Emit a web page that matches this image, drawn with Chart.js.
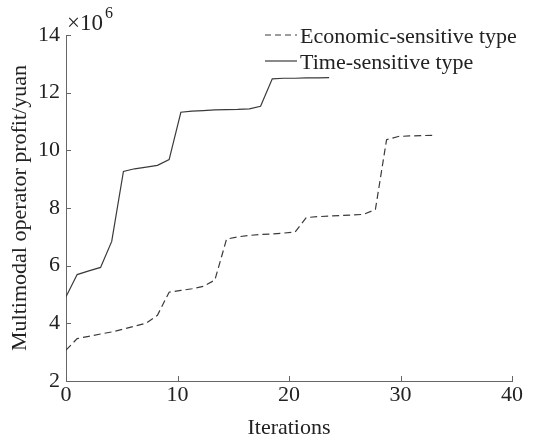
<!DOCTYPE html>
<html>
<head>
<meta charset="utf-8">
<script src="https://cdn.jsdelivr.net/npm/chart.js@4.4.0/dist/chart.umd.min.js"></script>
<style>
  html, body { margin: 0; padding: 0; background: #fff; }
  #wrap { width: 536px; height: 443px; }
</style>
</head>
<body>
<div id="wrap"><canvas id="myChart"></canvas></div>
<script>
// x positions (points sit slightly wider than the tick spacing)
const econIter = [0, 1.0, 2.05, 3.1, 4.1, 5.15, 6.15, 7.2, 8.2, 9.25,
                  10.3, 11.3, 12.3, 13.35, 14.4, 15.4, 16.45, 17.45, 18.5, 19.5,
                  20.55, 21.55, 22.6, 23.6, 24.65, 25.7, 26.7, 27.75, 28.75, 29.8,
                  30.8, 31.85, 32.85];
// profit in units of 10^6 yuan
const econProfit = [3.07, 3.47, 3.55, 3.63, 3.7, 3.8, 3.9, 4.01, 4.28, 5.08,
                    5.14, 5.2, 5.28, 5.5, 6.92, 7.0, 7.05, 7.08, 7.1, 7.13,
                    7.17, 7.67, 7.7, 7.72, 7.74, 7.76, 7.78, 7.95, 10.37, 10.48,
                    10.5, 10.51, 10.52];
const timeIter = [0, 1.0, 2.05, 3.1, 4.1, 5.15, 6.15, 7.2, 8.2, 9.25,
                  10.3, 11.3, 12.3, 13.35, 14.4, 15.4, 16.45, 17.45, 18.5, 19.5,
                  20.55, 21.55, 22.6, 23.6];
const timeProfit = [4.92, 5.69, 5.82, 5.94, 6.84, 9.27, 9.36, 9.42, 9.48, 9.68,
                    11.32, 11.36, 11.38, 11.4, 11.41, 11.42, 11.44, 11.53, 12.48, 12.5,
                    12.5, 12.51, 12.51, 12.52];
const xTicks = [0, 10, 20, 30, 40];
const yTicks = [2, 4, 6, 8, 10, 12, 14];
const seriesNames = ['Economic-sensitive type', 'Time-sensitive type'];

const FONT = '"Liberation Serif", "Times New Roman", serif';
const LINE = '#3a3a3a';
const AXIS = '#666';

const toPoints = (xs, ys) => ys.map((v, i) => ({ x: xs[i], y: v }));

const extras = {
    id: 'extras',
    afterDraw(chart) {
        const ctx = chart.ctx;
        const xs = chart.scales.x, ys = chart.scales.y;
        const area = chart.chartArea;
        ctx.save();
        // inward ticks
        ctx.strokeStyle = AXIS;
        ctx.lineWidth = 1;
        ctx.beginPath();
        xTicks.forEach(t => {
            const px = Math.round(xs.getPixelForValue(t)) + 0.5;
            ctx.moveTo(px, area.bottom);
            ctx.lineTo(px, area.bottom - 5);
        });
        yTicks.forEach(t => {
            const py = Math.round(ys.getPixelForValue(t)) + 0.5;
            ctx.moveTo(area.left, py);
            ctx.lineTo(area.left + 5, py);
        });
        ctx.stroke();

        // exponent label
        ctx.fillStyle = '#222';
        ctx.textBaseline = 'alphabetic';
        ctx.textAlign = 'left';
        ctx.font = '23px ' + FONT;
        ctx.fillText('\u00d710', area.left + 1, area.top - 5);
        const w = ctx.measureText('\u00d710').width;
        ctx.font = '16px ' + FONT;
        ctx.fillText('6', area.left + w + 3, area.top - 17);

        // legend
        const lx = area.right - 247;
        const rows = [area.top + 0, area.top + 26];
        ctx.font = '22px ' + FONT;
        ctx.textBaseline = 'middle';
        chart.data.datasets.forEach((ds, i) => {
            ctx.strokeStyle = LINE;
            ctx.lineWidth = 1.2;
            ctx.setLineDash(ds.borderDash ? [6, 4] : []);
            ctx.beginPath();
            ctx.moveTo(lx, rows[i]);
            ctx.lineTo(lx + 32, rows[i]);
            ctx.stroke();
            ctx.setLineDash([]);
            ctx.fillStyle = '#222';
            ctx.fillText(ds.label, lx + 35, rows[i] + 2);
        });
        ctx.restore();
    }
};

const ctx1 = document.getElementById('myChart').getContext('2d');
const myChart = new Chart(ctx1, {
    type: 'line',
    data: {
        datasets: [{
            label: seriesNames[0],
            data: toPoints(econIter, econProfit),
            borderColor: LINE,
            borderWidth: 1.2,
            borderDash: [7, 4],
            pointRadius: 0,
            fill: false,
            tension: 0
        }, {
            label: seriesNames[1],
            data: toPoints(timeIter, timeProfit),
            borderColor: LINE,
            borderWidth: 1.2,
            pointRadius: 0,
            fill: false,
            tension: 0
        }]
    },
    options: {
        responsive: true,
        maintainAspectRatio: false,
        animation: false,
        layout: { padding: { top: 35, right: 24, left: 0, bottom: 0 } },
        plugins: {
            legend: { display: false },
            tooltip: { enabled: false }
        },
        scales: {
            x: {
                type: 'linear',
                min: 0,
                max: 40,
                afterFit(scale) { scale.height = 62; },
                afterBuildTicks(scale) { scale.ticks = xTicks.map(v => ({ value: v })); },
                grid: { drawOnChartArea: false, drawTicks: false },
                border: { display: true, color: AXIS, width: 1 },
                ticks: { color: '#222', font: { family: FONT, size: 22 }, padding: 1, maxRotation: 0 },
                title: {
                    display: true,
                    text: 'Iterations',
                    color: '#222',
                    font: { family: FONT, size: 22 },
                    padding: { top: 0, bottom: 2 }
                }
            },
            y: {
                type: 'linear',
                min: 2,
                max: 14,
                afterFit(scale) { scale.width = 66; },
                afterBuildTicks(scale) { scale.ticks = yTicks.map(v => ({ value: v })); },
                grid: { drawOnChartArea: false, drawTicks: false },
                border: { display: true, color: AXIS, width: 1 },
                ticks: { color: '#222', font: { family: FONT, size: 22 }, padding: 6 },
                title: {
                    display: true,
                    text: 'Multimodal operator profit/yuan',
                    color: '#222',
                    font: { family: FONT, size: 22 },
                    padding: { top: 7, bottom: 0 }
                }
            }
        }
    },
    plugins: [extras]
});
</script>
</body>
</html>
